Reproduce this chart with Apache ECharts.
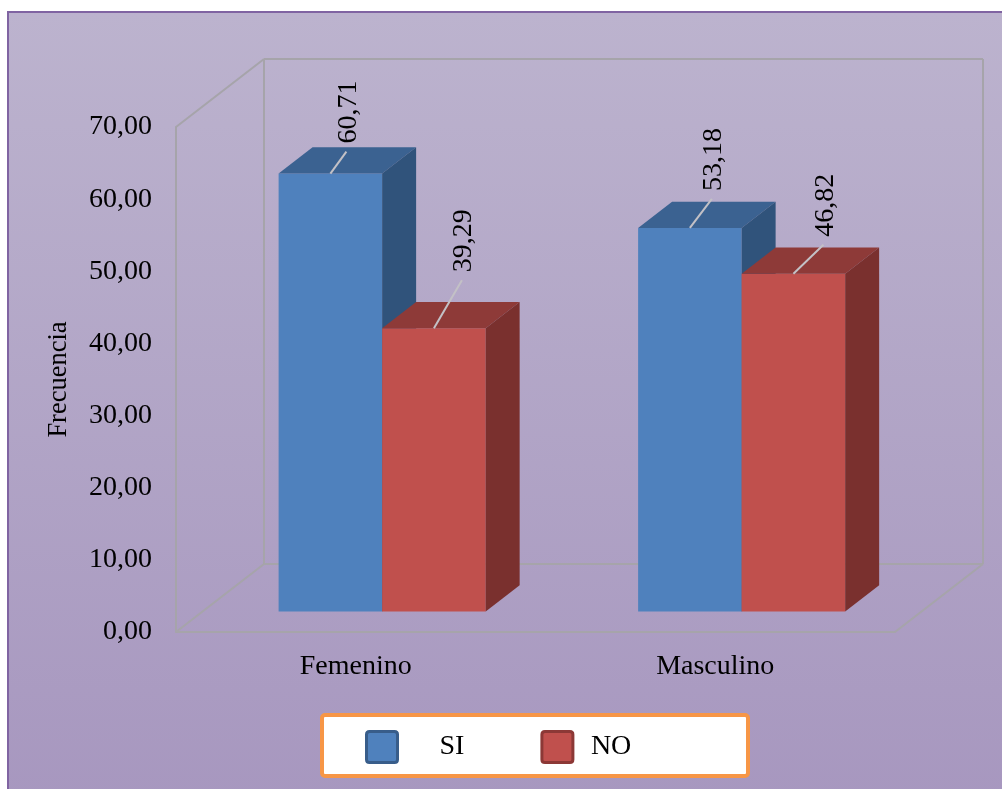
<!DOCTYPE html>
<html>
<head>
<meta charset="utf-8">
<script src="https://cdn.jsdelivr.net/npm/echarts@6/dist/echarts.min.js"></script>
<style>
  html, body { margin: 0; padding: 0; background: #ffffff; }
  #chart { width: 1002px; height: 789px; }
</style>
</head>
<body>
<div id="chart"></div>
<script>
// ---- data ----
const categories = ['Femenino', 'Masculino'];
const seriesNames = ['SI', 'NO'];
const siValues = [60.71, 53.18];
const noValues = [39.29, 46.82];
const yMin = 0;
const yMax = 70;
const yStep = 10;

// ---- look ----
const FONT = 'Liberation Serif, Times New Roman, serif';
const DEPTH = { dx: 88, dy: -68 };      // oblique offset of the back wall
const BAR_DEPTH_START = 0.3;            // bars stand a bit behind the front edge
const BAR_DEPTH_LEN = 0.386;            // thickness of each bar (fraction of depth)
const BAR_FRAC = 0.288;                 // bar width as a fraction of the category band
const FRAME_COLOR = '#a6a4aa';

const palettes = [
  { front: '#4f81bd', top: '#3b6291', side: '#30537b', border: '#385d8a' },
  { front: '#c0504d', top: '#8e3a38', side: '#7a302e', border: '#8c3836' }
];
// leader line vectors from the top of each bar to its label [series][category]
const leaders = [
  [[16, -22], [22, -29]],
  [[28, -48], [30, -29]]
];

const fmt = v => v.toFixed(2).replace('.', ',');

function barRenderer(slot) {
  const pal = palettes[slot];
  return function (params, api) {
    const cat = api.value(0);
    const val = api.value(1);
    const band = api.size([1, 0])[0];
    const w = band * BAR_FRAC;
    const base = api.coord([cat, 0]);
    const top = api.coord([cat, val]);
    const sx = DEPTH.dx * BAR_DEPTH_START, sy = DEPTH.dy * BAR_DEPTH_START;
    const bx = DEPTH.dx * BAR_DEPTH_LEN, by = DEPTH.dy * BAR_DEPTH_LEN;
    const x0 = base[0] + sx - (slot === 0 ? w : 0);
    const x1 = x0 + w;
    const yb = base[1] + sy;
    const yt = top[1] + sy;
    const lv = leaders[slot][params.dataIndex];
    const lx0 = x0 + w / 2, ly0 = yt;
    const lx1 = lx0 + lv[0], ly1 = ly0 + lv[1];
    return {
      type: 'group',
      children: [
        { type: 'rect', shape: { x: x0, y: yt, width: w, height: yb - yt },
          style: { fill: pal.front } },
        { type: 'polygon', shape: { points: [[x0, yt], [x1, yt], [x1 + bx, yt + by], [x0 + bx, yt + by]] },
          style: { fill: pal.top } },
        { type: 'polygon', shape: { points: [[x1, yt], [x1, yb], [x1 + bx, yb + by], [x1 + bx, yt + by]] },
          style: { fill: pal.side } },
        { type: 'line', shape: { x1: lx0, y1: ly0, x2: lx1, y2: ly1 },
          style: { stroke: '#c3c1c6', lineWidth: 2 } },
        { type: 'text', x: lx1 + 2, y: ly1 - 8, rotation: Math.PI / 2,
          style: { text: fmt(val), fill: '#000', font: '28px ' + FONT,
                   align: 'left', verticalAlign: 'middle' } }
      ]
    };
  };
}

// the 3D box: left wall, back wall and floor edges not covered by the axis lines
function frameRenderer(params, api) {
  const cs = params.coordSys;
  const L = cs.x, R = cs.x + cs.width, T = cs.y, B = cs.y + cs.height;
  const dx = DEPTH.dx, dy = DEPTH.dy;
  const seg = (a, b) => ({ type: 'line', shape: { x1: a[0], y1: a[1], x2: b[0], y2: b[1] },
    style: { stroke: FRAME_COLOR, lineWidth: 2 } });
  return {
    type: 'group',
    children: [
      seg([L, T], [L + dx, T + dy]),
      seg([L + dx, T + dy], [L + dx, B + dy]),
      seg([L, B], [L + dx, B + dy]),
      seg([L + dx, T + dy], [R + dx, T + dy]),
      seg([R + dx, T + dy], [R + dx, B + dy]),
      seg([L + dx, B + dy], [R + dx, B + dy]),
      seg([R, B], [R + dx, B + dy])
    ]
  };
}

const chart = echarts.init(document.getElementById('chart'), null, { renderer: 'canvas' });

chart.setOption({
  animation: false,
  backgroundColor: '#ffffff',
  textStyle: { fontFamily: FONT },
  graphic: [
    { type: 'rect', z: -10, shape: { x: 8, y: 12, width: 1010, height: 790 },
      style: {
        fill: new echarts.graphic.LinearGradient(0, 0, 0, 1, [
          { offset: 0, color: '#bcb3ce' },
          { offset: 1, color: '#a797bf' }
        ]),
        stroke: '#8064a2', lineWidth: 2
      } },
    { type: 'rect', z: -5, shape: { x: 322, y: 715, width: 426, height: 61, r: 3 },
      style: { fill: '#ffffff', stroke: '#f79646', lineWidth: 4 } }
  ],
  grid: { left: 176, right: 107, top: 127, bottom: 157, containLabel: false },
  legend: {
    left: 365, top: 730, padding: 0,
    itemWidth: 31, itemHeight: 31, itemGap: 76,
    icon: 'path://M3,0 H28 Q31,0 31,3 V28 Q31,31 28,31 H3 Q0,31 0,28 V3 Q0,0 3,0 Z',
    data: seriesNames.map((n, i) => ({
      name: n,
      itemStyle: { color: palettes[i].front, borderColor: palettes[i].border, borderWidth: 3 }
    })),
    formatter: n => n === seriesNames[0] ? '{a|' + n + '}' : '{b|' + n + '}',
    textStyle: {
      color: '#000', fontSize: 28, fontFamily: FONT,
      rich: {
        a: { fontSize: 28, fontFamily: FONT, padding: [0, 0, 0, 37] },
        b: { fontSize: 28, fontFamily: FONT, padding: [0, 0, 0, 13] }
      }
    }
  },
  xAxis: {
    type: 'category',
    data: categories,
    axisLine: { lineStyle: { color: FRAME_COLOR, width: 2 } },
    axisTick: { show: false },
    axisLabel: { color: '#000', fontSize: 28, fontFamily: FONT, margin: 21 }
  },
  yAxis: {
    type: 'value',
    min: yMin, max: yMax, interval: yStep,
    name: 'Frecuencia',
    nameLocation: 'middle',
    nameRotate: 90,
    nameGap: 103,
    nameTextStyle: { color: '#000', fontSize: 26.5, fontFamily: FONT },
    axisLine: { show: true, lineStyle: { color: FRAME_COLOR, width: 2 } },
    axisTick: { show: false },
    splitLine: { show: false },
    axisLabel: { color: '#000', fontSize: 28, fontFamily: FONT, margin: 24,
                 formatter: v => fmt(v) }
  },
  series: [
    { type: 'custom', name: 'frame', z: 1, silent: true, renderItem: frameRenderer,
      data: [[0, 0]] },
    { type: 'custom', name: seriesNames[0], z: 2, renderItem: barRenderer(0),
      itemStyle: { color: palettes[0].front },
      data: siValues.map((v, i) => [i, v]) },
    { type: 'custom', name: seriesNames[1], z: 3, renderItem: barRenderer(1),
      itemStyle: { color: palettes[1].front },
      data: noValues.map((v, i) => [i, v]) }
  ]
});
</script>
</body>
</html>
